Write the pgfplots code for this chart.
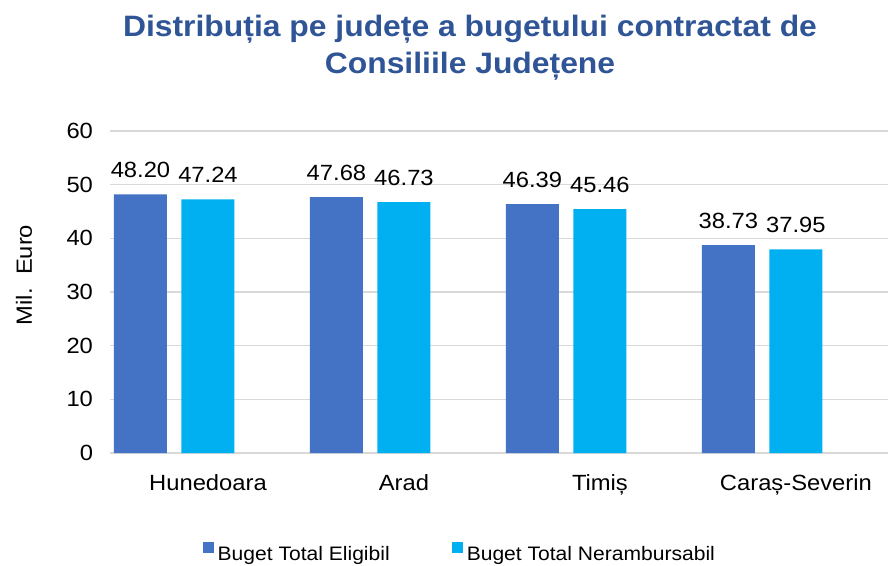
\documentclass[border=0pt]{standalone}
\usepackage{fontspec}
\setmainfont{Liberation Sans}[FakeStretch=1.08]
\usepackage{pgfplots}
\pgfplotsset{compat=1.18}

\definecolor{eligibil}{HTML}{4472C4}
\definecolor{neramb}{HTML}{00B0F0}
\definecolor{titlu}{HTML}{2F5597}
\definecolor{grila}{HTML}{D9D9D9}

\begin{document}
\begin{tikzpicture}
\begin{axis}[
  at={(0,0)}, anchor=south west,
  scale only axis, width=778pt, height=322pt,
  ybar, bar width=0.2704,
  xmin=-0.5, xmax=3.47,
  ymin=0, ymax=60,
  xtick={0,1,2,3},
  xticklabels={Hunedoara, Arad, Timiș, Caraș-Severin},
  ytick={0,10,...,60},
  /pgf/number format/assume math mode=true,
  major tick length=0pt,
  axis line style={draw=none},
  ymajorgrids,
  major grid style={draw=grila, line width=1.3pt},
  tick label style={font=\fontsize{22}{26}\selectfont, text=black},
  yticklabel style={xshift=-13.5pt},
  xticklabel style={anchor=base, yshift=-37pt},
  ylabel={Mil.\ \ Euro},
  every axis y label/.style={at={(rel axis cs:-0.1003,0.553)}, rotate=90, anchor=base, font=\fontsize{22}{26}\selectfont},
  nodes near coords={\pgfmathprintnumber[fixed,precision=2,fixed zerofill,assume math mode=true]{\pgfplotspointmeta}},
  every node near coord/.append style={anchor=base, yshift=17pt, font=\fontsize{22}{26}\selectfont, text=black},
  legend image code/.code={\fill[#1, draw=none] (0pt,1pt) rectangle (11pt,12pt);},
  legend columns=2,
  legend style={at={(rel axis cs:0.1195,-0.308)}, anchor=west, draw=none, fill=none,
    inner sep=0pt, column sep=0pt,
    nodes={inner xsep=3.5pt, inner ysep=0pt, font=\fontsize{19.5}{23}\selectfont},
    /tikz/every even column/.append style={column sep=59pt}},
  clip=false,
]
\addplot[fill=eligibil, draw=none, bar shift=-0.3444]
  coordinates {(0,48.20) (1,47.68) (2,46.39) (3,38.73)};
\addlegendentry{Buget Total Eligibil}
\addplot[fill=neramb, draw=none, bar shift=0]
  coordinates {(0,47.24) (1,46.73) (2,45.46) (3,37.95)};
\addlegendentry{Buget Total Nerambursabil}

% titlul pe doua randuri
\node[anchor=base, text=titlu, font=\bfseries\fontsize{29.5}{34}\selectfont]
  at (rel axis cs:0.4627,1.2929) {Distribuția pe județe a bugetului contractat de};
\node[anchor=base, text=titlu, font=\bfseries\fontsize{29.5}{34}\selectfont]
  at (rel axis cs:0.4627,1.180) {Consiliile Județene};
\end{axis}
\pgfresetboundingbox
\path (-110pt,-112pt) rectangle (778pt,453pt);
\end{tikzpicture}
\end{document}
